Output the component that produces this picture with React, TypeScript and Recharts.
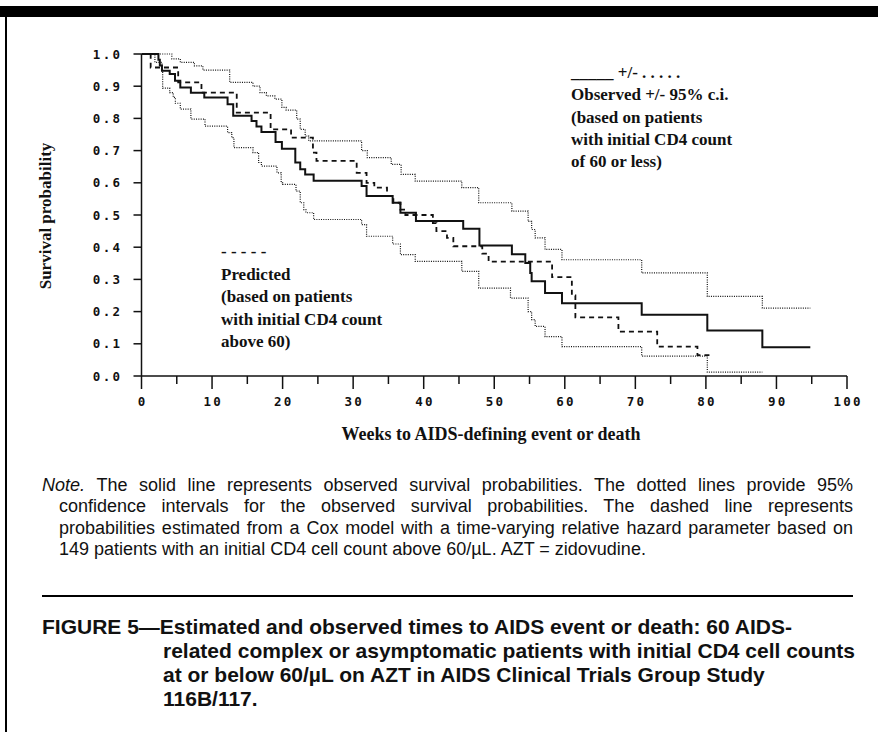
import React from 'react';
import { LineChart, Line, XAxis, YAxis } from 'recharts';

// observed survival (solid)
const observedWeeks = [0, 2.4, 2.6, 2.9, 4.0, 4.75, 5.5, 7.0, 8.9, 12.2, 13.0, 15.6, 16.3, 17.0, 19.0, 19.9, 21.8, 22.5, 23.2, 24.4, 31.2, 31.9, 35.6, 36.7, 38.9, 45.6, 47.9, 52.5, 54.4, 55.1, 55.3, 57.2, 59.6, 70.9, 80.2, 88.0, 94.8];
const observedSurvival = [1.0, 0.982, 0.964, 0.948, 0.938, 0.917, 0.896, 0.88, 0.865, 0.844, 0.808, 0.792, 0.775, 0.758, 0.727, 0.706, 0.663, 0.642, 0.626, 0.606, 0.59, 0.559, 0.538, 0.507, 0.481, 0.457, 0.405, 0.378, 0.351, 0.32, 0.294, 0.258, 0.226, 0.19, 0.141, 0.089, 0.089];

// upper 95% c.i. (dotted)
const upperWeeks = [0, 4.3, 5.5, 7.5, 8.7, 12.5, 15.8, 16.8, 17.7, 18.9, 19.9, 20.5, 22.0, 22.5, 23.2, 23.7, 31.2, 32.0, 35.4, 36.8, 38.8, 45.4, 47.8, 52.5, 54.8, 55.3, 55.8, 57.2, 59.6, 70.9, 80.2, 88.0, 94.8];
const upperSurvival = [1.0, 0.985, 0.974, 0.963, 0.95, 0.912, 0.9, 0.88, 0.87, 0.86, 0.834, 0.826, 0.798, 0.766, 0.745, 0.73, 0.7, 0.678, 0.657, 0.626, 0.605, 0.585, 0.538, 0.512, 0.48, 0.455, 0.429, 0.393, 0.361, 0.32, 0.247, 0.211, 0.211];

// lower 95% c.i. (dotted)
const lowerWeeks = [0, 1.9, 2.9, 3.0, 4.0, 4.5, 4.8, 5.5, 7.0, 9.0, 12.2, 12.8, 13.1, 15.8, 16.6, 17.0, 19.2, 19.8, 20.0, 21.9, 22.5, 23.0, 23.3, 24.4, 31.2, 31.9, 35.6, 36.7, 38.8, 45.4, 47.8, 52.3, 54.8, 55.3, 55.8, 57.2, 59.6, 70.9, 80.2, 88.0];
const lowerSurvival = [1.0, 0.974, 0.943, 0.894, 0.88, 0.865, 0.847, 0.829, 0.798, 0.776, 0.756, 0.74, 0.709, 0.694, 0.663, 0.652, 0.631, 0.6, 0.595, 0.574, 0.538, 0.517, 0.507, 0.486, 0.47, 0.434, 0.41, 0.377, 0.356, 0.325, 0.273, 0.242, 0.2, 0.175, 0.154, 0.122, 0.091, 0.062, 0.012, 0.012];

// predicted (dashed)
const predictedWeeks = [0, 1.3, 5.2, 8.5, 13.5, 18.3, 21.2, 24.3, 24.8, 30.5, 31.9, 33.0, 34.8, 35.7, 36.7, 37.4, 41.3, 41.8, 43.3, 44.2, 48.3, 49.2, 58.2, 61.0, 61.5, 67.6, 73.1, 78.8, 80.5];
const predictedSurvival = [1.0, 0.958, 0.912, 0.88, 0.818, 0.766, 0.74, 0.694, 0.668, 0.631, 0.6, 0.585, 0.559, 0.538, 0.517, 0.5, 0.475, 0.45, 0.429, 0.403, 0.38, 0.355, 0.307, 0.25, 0.182, 0.138, 0.091, 0.065, 0.065];

const xTicks = [0, 5, 10, 15, 20, 25, 30, 35, 40, 45, 50, 55, 60, 65, 70, 75, 80, 85, 90, 95, 100];
const yTicks = [0, 0.1, 0.2, 0.3, 0.4, 0.5, 0.6, 0.7, 0.8, 0.9, 1.0];

const noteLines = [
  'The solid line represents observed survival probabilities. The dotted lines provide 95%',
  'confidence intervals for the observed survival probabilities. The dashed line represents',
  'probabilities estimated from a Cox model with a time-varying relative hazard parameter based on',
  '149 patients with an initial CD4 cell count above 60/\u00b5L. AZT = zidovudine.',
];
const captionLines = [
  'FIGURE 5\u2014Estimated and observed times to AIDS event or death: 60 AIDS-',
  'related complex or asymptomatic patients with initial CD4 cell counts',
  'at or below 60/\u00b5L on AZT in AIDS Clinical Trials Group Study',
  '116B/117.',
];
const observedLegend = ['_____ +/- . . . . .', 'Observed +/- 95% c.i.', '(based on patients', 'with initial CD4 count', 'of 60 or less)'];
const predictedLegend = ['- - - - -', 'Predicted', '(based on patients', 'with initial CD4 count', 'above 60)'];

const toSeries = (weeks: number[], values: number[]) => weeks.map((w, i) => ({ week: w, value: values[i] }));

const ink = '#111';
const tickFont = '"DejaVu Sans Mono", monospace';

const XTick = (props: any) => {
  const { x, y, payload } = props;
  const major = payload.value % 10 === 0;
  return (
    <g>
      <line x1={x} x2={x} y1={y} y2={y + (major ? 13 : 8)} stroke={ink} strokeWidth={1.5} />
      {major && (
        <text x={x + 1.2} y={y + 30} textAnchor="middle" fontFamily={tickFont} fontSize={12.5} fontWeight={700} letterSpacing={2.2} fill={ink}>
          {payload.value}
        </text>
      )}
    </g>
  );
};

const YTick = (props: any) => {
  const { x, y, payload } = props;
  return (
    <g>
      <line x1={x - 8} x2={x} y1={y} y2={y} stroke={ink} strokeWidth={1.5} />
      <text x={x - 19} y={y + 4.5} textAnchor="end" fontFamily={tickFont} fontSize={12.5} fontWeight={700} letterSpacing={2.4} fill={ink}>
        {payload.value.toFixed(1)}
      </text>
    </g>
  );
};

const serif = '"Liberation Serif", "Times New Roman", serif';
const sans = '"Liberation Sans", Arial, sans-serif';

export default function App() {
  return (
    <div style={{ position: 'absolute', left: 0, top: 0, width: 878, height: 732, background: '#fff', overflow: 'hidden', color: ink }}>
      <div style={{ position: 'absolute', left: 0, top: 6, width: 878, height: 11, background: '#000' }} />
      <div style={{ position: 'absolute', left: 5, top: 6, width: 2, height: 726, background: '#000' }} />

      <div style={{ position: 'absolute', left: 0, top: 0 }}>
        <LineChart width={878} height={420} margin={{ top: 54, right: 31, bottom: 0, left: 0 }}>
          <XAxis
            dataKey="week"
            type="number"
            domain={[0, 100]}
            ticks={xTicks}
            interval={0}
            height={44}
            tickSize={0}
            tickMargin={0}
            tickLine={false}
            tick={<XTick />}
            axisLine={{ stroke: ink, strokeWidth: 1.5 }}
            allowDataOverflow
          />
          <YAxis
            type="number"
            domain={[0, 1]}
            ticks={yTicks}
            interval={0}
            width={141.5}
            tickSize={0}
            tickMargin={0}
            tickLine={false}
            tick={<YTick />}
            axisLine={{ stroke: ink, strokeWidth: 1.5 }}
          />
          <Line data={toSeries(upperWeeks, upperSurvival)} dataKey="value" type="stepAfter" stroke={ink} strokeWidth={1.2} strokeDasharray="1 1.3" dot={false} isAnimationActive={false} />
          <Line data={toSeries(lowerWeeks, lowerSurvival)} dataKey="value" type="stepAfter" stroke={ink} strokeWidth={1.2} strokeDasharray="1 1.3" dot={false} isAnimationActive={false} />
          <Line data={toSeries(predictedWeeks, predictedSurvival)} dataKey="value" type="stepAfter" stroke={ink} strokeWidth={1.8} strokeDasharray="5 4" dot={false} isAnimationActive={false} />
          <Line data={toSeries(observedWeeks, observedSurvival)} dataKey="value" type="stepAfter" stroke={ink} strokeWidth={2} dot={false} isAnimationActive={false} />
        </LineChart>
      </div>

      {/* axis titles */}
      <div style={{ position: 'absolute', left: -54, top: 206, width: 200, height: 20, lineHeight: '20px', textAlign: 'center', transform: 'rotate(-90deg)', fontFamily: serif, fontWeight: 700, fontSize: 17 }}>
        Survival probability
      </div>
      <div style={{ position: 'absolute', left: 291, top: 424, width: 400, lineHeight: '20px', textAlign: 'center', fontFamily: serif, fontWeight: 700, fontSize: 18 }}>
        Weeks to AIDS-defining event or death
      </div>

      {/* in-plot legends */}
      <div style={{ position: 'absolute', left: 571, top: 62, lineHeight: '22.3px', fontFamily: serif, fontWeight: 700, fontSize: 17, whiteSpace: 'pre' }}>
        {observedLegend.map((t, i) => <div key={i}>{t}</div>)}
      </div>
      <div style={{ position: 'absolute', left: 221, top: 241, lineHeight: '22.6px', fontFamily: serif, fontWeight: 700, fontSize: 17, whiteSpace: 'nowrap' }}>
        {predictedLegend.map((t, i) => <div key={i}>{t}</div>)}
      </div>

      {/* note */}
      <div style={{ position: 'absolute', left: 42, top: 475, width: 811, fontFamily: sans, fontSize: 18, lineHeight: '21.3px' }}>
        {noteLines.map((t, i) => (
          <div
            key={i}
            style={{
              marginLeft: i === 0 ? 0 : 17,
              whiteSpace: 'nowrap',
              textAlign: 'justify',
              textAlignLast: i === noteLines.length - 1 ? 'left' : 'justify',
            }}
          >
            {i === 0 && <i>Note. </i>}
            {t}
          </div>
        ))}
      </div>

      <div style={{ position: 'absolute', left: 42, top: 595, width: 811, height: 2, background: '#000' }} />

      {/* caption */}
      <div style={{ position: 'absolute', left: 42, top: 615, width: 811, fontFamily: sans, fontWeight: 700, fontSize: 21, lineHeight: '24px' }}>
        {captionLines.map((t, i) => (
          <div key={i} style={{ marginLeft: i === 0 ? 0 : 121, whiteSpace: 'nowrap' }}>{t}</div>
        ))}
      </div>
    </div>
  );
}
